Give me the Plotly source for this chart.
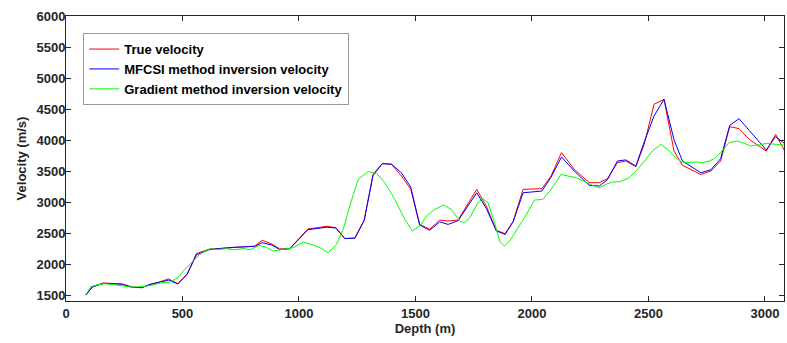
import plotly.graph_objects as go

# Depth knots (m) for true / MFCSI velocities
knot_depth = [85, 113, 160, 240, 285, 325, 355, 405, 440, 480, 520, 560, 617, 724, 810, 842, 885, 917, 960,
              1038, 1120, 1158, 1197, 1240, 1280, 1318, 1358, 1397, 1440, 1480, 1518, 1561, 1604, 1640, 1683,
              1763, 1804, 1847, 1885, 1920, 1962, 2043, 2082, 2127, 2182, 2246, 2289, 2324, 2367, 2403, 2446,
              2482, 2524, 2567, 2610, 2646, 2725, 2768, 2810, 2849, 2889, 2932, 3006, 3046, 3089]

true_velocity = [1500, 1633, 1695, 1680, 1630, 1620, 1668, 1715, 1762, 1684, 1840, 2172, 2242, 2274, 2290, 2385,
                 2320, 2245, 2248, 2565, 2610, 2587, 2410, 2420, 2710, 3447, 3624, 3608, 3420, 3205, 2640, 2560,
                 2710, 2694, 2710, 3205, 2936, 2545, 2490, 2694, 3205, 3216, 3420, 3797, 3528, 3313, 3313, 3377,
                 3636, 3662, 3571, 3931, 4576, 4657, 3823, 3592, 3445, 3500, 3662, 4216, 4184, 4012, 3823, 4092,
                 3797]

mfcsi_velocity = [1500, 1630, 1690, 1675, 1625, 1620, 1665, 1705, 1742, 1680, 1835, 2150, 2235, 2272, 2285, 2345,
                  2305, 2235, 2245, 2555, 2595, 2582, 2412, 2418, 2705, 3430, 3618, 3612, 3470, 3240, 2630, 2545,
                  2680, 2640, 2700, 3150, 2900, 2535, 2478, 2690, 3150, 3178, 3400, 3727, 3500, 3270, 3258, 3360,
                  3662, 3680, 3580, 3970, 4387, 4657, 4003, 3662, 3474, 3520, 3700, 4237, 4345, 4159, 3840, 4055,
                  3931]

# Gradient method inversion (denser sampling)
grad_depth = [86, 106, 135, 167, 203, 239, 281, 324, 367, 410, 446, 481, 503, 539, 574, 617, 650, 689, 720, 760,
              790, 831, 860, 889, 930, 974, 1019, 1054, 1090, 1126, 1161, 1190, 1218, 1254, 1297, 1333, 1369,
              1411, 1454, 1487, 1525, 1547, 1583, 1621, 1654, 1690, 1711, 1732, 1768, 1789, 1811, 1840, 1861,
              1882, 1904, 1936, 1968, 2011, 2047, 2082, 2125, 2155, 2189, 2236, 2260, 2289, 2320, 2346, 2380,
              2418, 2453, 2489, 2517, 2553, 2582, 2617, 2646, 2680, 2710, 2732, 2760, 2782, 2810, 2846, 2882,
              2910, 2939, 2970, 3010, 3050, 3089]

grad_velocity = [1511, 1636, 1665, 1684, 1668, 1650, 1629, 1636, 1658, 1700, 1710, 1780, 1887, 2023, 2156, 2248,
                 2235, 2248, 2230, 2250, 2232, 2302, 2270, 2210, 2240, 2264, 2355, 2318, 2264, 2184, 2318, 2560,
                 2936, 3366, 3490, 3463, 3313, 3044, 2722, 2533, 2640, 2775, 2882, 2952, 2882, 2694, 2668, 2740,
                 2990, 3055, 2990, 2668, 2371, 2290, 2371, 2560, 2748, 3032, 3043, 3205, 3447, 3420, 3393, 3313,
                 3270, 3232, 3290, 3323, 3330, 3393, 3528, 3689, 3823, 3931, 3850, 3716, 3636, 3640, 3646, 3636,
                 3660, 3700, 3797, 3958, 3984, 3950, 3904, 3920, 3947, 3930, 3915]

x_ticks = [0, 500, 1000, 1500, 2000, 2500, 3000]
y_ticks = [1500, 2000, 2500, 3000, 3500, 4000, 4500, 5000, 5500, 6000]

font_family = "Liberation Sans, Arial, sans-serif"
axis_color = "#262626"

fig = go.Figure()
fig.add_trace(go.Scatter(x=knot_depth, y=true_velocity, mode="lines", name="True velocity",
                         line=dict(color="#FF0000", width=1)))
fig.add_trace(go.Scatter(x=knot_depth, y=mfcsi_velocity, mode="lines", name="MFCSI method inversion velocity",
                         line=dict(color="#0000FF", width=1)))
fig.add_trace(go.Scatter(x=grad_depth, y=grad_velocity, mode="lines", name="Gradient method inversion velocity",
                         line=dict(color="#00FF00", width=1)))

axis_common = dict(showline=True, linecolor=axis_color, linewidth=1, mirror="ticks", ticks="inside",
                   ticklen=5, tickcolor=axis_color, tickwidth=1, showgrid=False, zeroline=False,
                   tickfont=dict(family=font_family, size=13, color=axis_color, weight="bold"))

fig.update_xaxes(range=[0, 3082], tickvals=x_ticks, ticktext=[str(v) for v in x_ticks],
                 ticklabelstandoff=0,
                 title=dict(text="<b>Depth (m)</b>", font=dict(family=font_family, size=13, color=axis_color),
                            standoff=2),
                 **axis_common)
fig.update_yaxes(range=[1405, 6000], tickvals=y_ticks, ticktext=[str(v) for v in y_ticks],
                 ticklabelstandoff=-3,
                 title=dict(text="<b>Velocity (m/s)</b>", font=dict(family=font_family, size=13, color=axis_color),
                            standoff=6),
                 **axis_common)

fig.update_layout(
    width=787, height=343,
    margin=dict(l=66, r=3, t=16, b=42),
    plot_bgcolor="white", paper_bgcolor="white",
    showlegend=True,
    legend=dict(x=0.024, y=0.94, xanchor="left", yanchor="top",
                bgcolor="white", bordercolor="#9a9a9a", borderwidth=1,
                font=dict(family=font_family, size=13, color="#000000", weight="bold"),
                tracegroupgap=0, itemwidth=30),
)

fig.write_html("out.html")
